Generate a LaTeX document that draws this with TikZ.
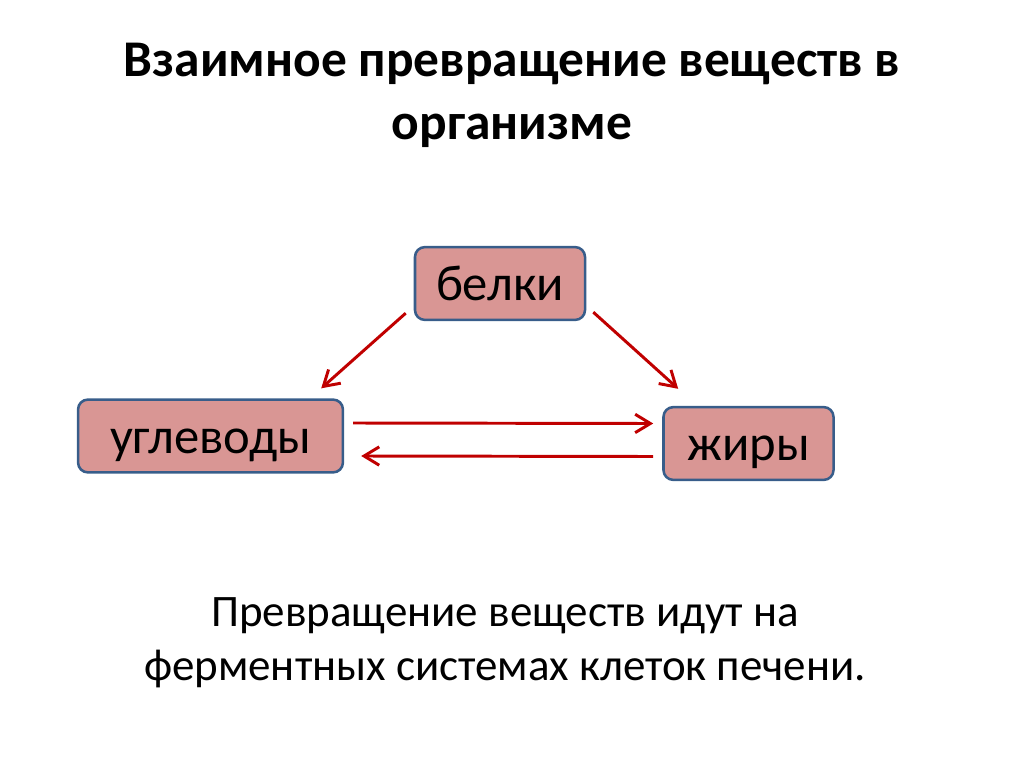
\documentclass[tikz,border=0pt]{standalone}
\usepackage{fontspec}
\setmainfont{Carlito}
\usetikzlibrary{arrows.meta,positioning,calc}
\definecolor{MvFill}{RGB}{217,150,148}
\definecolor{MvBorder}{RGB}{56,93,138}
\definecolor{MvRed}{RGB}{192,0,0}
\tikzset{
  mv/box/.style={
    draw=MvBorder,
    line width=1.8pt,
    rounded corners=7pt,
    fill=MvFill,
    align=center,
    text=black,
    minimum width=4.25cm,
    minimum height=1.82cm,
    inner sep=0pt,
    text height=0.85cm,
    text depth=0cm,
    font=\fontsize{36}{40}\selectfont
  },
  mv/arrow/.style={-{Straight Barb[length=3.8mm,width=4.6mm]}, line width=2.1pt, draw=MvRed},
  mv/title/.style={font=\fontsize{36.6}{44.8}\selectfont\bfseries, align=center, inner sep=0pt},
  mv/text/.style={font=\fontsize{32}{37.7}\selectfont, align=center, inner sep=0pt}
}

\begin{document}
\begin{tikzpicture}[x=0.025cm,y=-0.025cm]
  \useasboundingbox (0,0) rectangle (1024,767);
  \node[mv/title,anchor=base] (title) at (512,140) {Взаимное превращение веществ в\\организме};
  % three substances
  \node[mv/box] (belki) at (500,283.5) {белки};
  \node[mv/box,minimum width=6.62cm] (ugl) at (210.5,436) {углеводы};
  \node[mv/box] (zhir) at (748.5,443.5) {жиры};
  % conversions
  \draw[mv/arrow] ($(belki.south west)+(-8,-8)$) -- ($(ugl.north east)+(-23,-10)$);
  \draw[mv/arrow] ($(belki.south east)+(7,-9)$) -- ($(zhir.north west)+(16,-17)$);
  \draw[mv/arrow] ($(ugl.east)+(9,-13)$) -- ($(zhir.west)+(-9,-20)$);
  \draw[mv/arrow] ($(zhir.west)+(-9,13)$) -- ($(ugl.east)+(17,20)$);
  \node[mv/text,anchor=base] (note) at (505,680) {Превращение веществ идут на\\ферментных системах клеток печени.};
\end{tikzpicture}
\end{document}
